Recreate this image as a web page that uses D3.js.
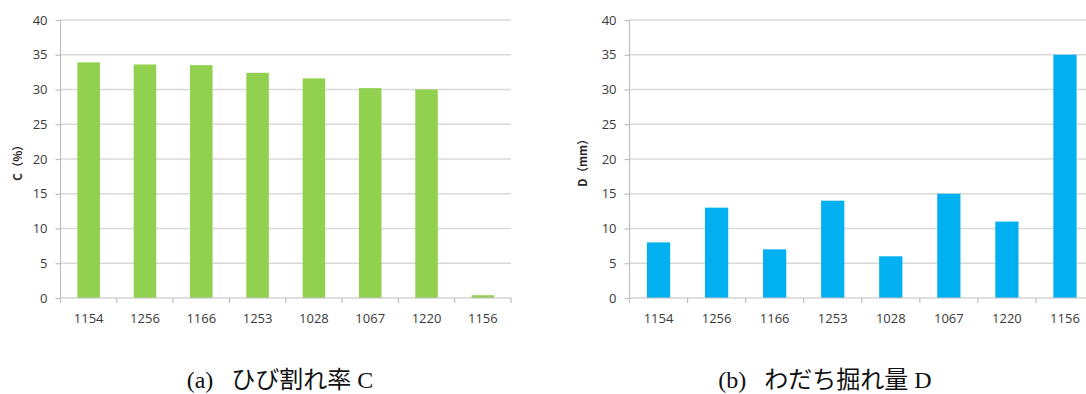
<!DOCTYPE html>
<html>
<head>
<meta charset="utf-8">
<script src="https://cdn.jsdelivr.net/npm/d3@7"></script>
<style>
    body { margin: 0; background: #fff; }
    .tick text { font-family: "Open Sans", "Noto Sans", sans-serif; font-size: 13px; fill: #3a3a3a; }
    .ytitle { font-family: "Noto Sans CJK JP", "Open Sans", sans-serif; font-size: 11.5px; font-weight: bold; fill: #262626; }
    .caption { font-family: "Liberation Serif", "Noto Sans CJK JP", serif; font-size: 24px; fill: #111; }
</style>
</head>
<body>
<div id="chart"></div>
<script>
// sections on x axis (same order in both panels)
let sections = ["1154", "1256", "1166", "1253", "1028", "1067", "1220", "1156"];
// crack ratio C (%)
let crackValues = [33.9, 33.6, 33.5, 32.4, 31.6, 30.2, 30.0, 0.4];
// rut depth D (mm)
let rutValues = [8, 13, 7, 14, 6, 15, 11, 35];
let yTicks = [0, 5, 10, 15, 20, 25, 30, 35, 40];

let svg = d3.select("#chart").append("svg")
    .attr("width", 1086)
    .attr("height", 394);

function drawPanel(opts) {
    let g = svg.append("g");
    let top = 20, bottom = 298;

    let xscale = d3.scaleBand()
        .domain(sections)
        .range([opts.left, opts.right])
        .paddingInner(0.6)
        .paddingOuter(0.3);

    let yscale = d3.scaleLinear()
        .domain([0, 40])
        .range([bottom, top]);

    // gridlines
    g.append("g")
        .selectAll("line")
        .data(yTicks.filter(d => d > 0))
        .join("line")
        .attr("x1", opts.left)
        .attr("x2", opts.right)
        .attr("y1", d => yscale(d))
        .attr("y2", d => yscale(d))
        .attr("stroke", "#d9d9d9")
        .attr("stroke-width", 1.5);

    // bars
    g.append("g")
        .selectAll("rect")
        .data(opts.values)
        .join("rect")
        .attr("x", (d, i) => xscale(sections[i]))
        .attr("y", d => yscale(d))
        .attr("width", xscale.bandwidth())
        .attr("height", d => bottom - yscale(d))
        .attr("fill", opts.color);

    // y axis
    let yAxis = d3.axisLeft(yscale).tickValues(yTicks).tickSize(5).tickPadding(8);
    let yg = g.append("g")
        .attr("transform", `translate(${opts.left},0)`)
        .call(yAxis);
    yg.selectAll("line, path").attr("stroke", "#bfbfbf").attr("stroke-width", 1.2);
    yg.select(".domain").attr("d", `M0,${top}V${bottom}`);

    // x axis: ticks sit on band boundaries
    let xg = g.append("g")
        .attr("transform", `translate(0,${bottom})`);
    xg.append("line")
        .attr("x1", opts.left).attr("x2", opts.right)
        .attr("stroke", "#bfbfbf").attr("stroke-width", 1.2);
    let step = xscale.step();
    xg.selectAll(".xt")
        .data(d3.range(sections.length + 1))
        .join("line")
        .attr("class", "xt")
        .attr("x1", i => opts.left + i * step)
        .attr("x2", i => opts.left + i * step)
        .attr("y1", 0).attr("y2", 5)
        .attr("stroke", "#bfbfbf").attr("stroke-width", 1.2);
    xg.selectAll(".xl")
        .data(sections)
        .join("text")
        .attr("class", "xl")
        .attr("x", d => xscale(d) + xscale.bandwidth() / 2)
        .attr("y", 25)
        .attr("text-anchor", "middle")
        .style("font-family", "'Open Sans', 'Noto Sans', sans-serif")
        .style("font-size", "13px")
        .style("fill", "#3a3a3a")
        .text(d => d);

    // y title
    g.append("text")
        .attr("class", "ytitle")
        .attr("transform", `translate(${opts.titleX},160) rotate(-90)`)
        .attr("text-anchor", "middle")
        .text(opts.yTitle);

    // caption
    g.append("text")
        .attr("class", "caption")
        .attr("x", opts.capX)
        .attr("y", 388)
        .attr("text-anchor", "middle")
        .attr("xml:space", "preserve")
        .text(opts.caption);
}

drawPanel({ left: 60.5, right: 511, values: crackValues, color: "#92d050",
    yTitle: "C（%）", titleX: 22, caption: "(a)\u2002 ひび割れ率 C", capX: 280 });
drawPanel({ left: 629.5, right: 1094, values: rutValues, color: "#00b0f0",
    yTitle: "D（mm）", titleX: 587, caption: "(b)\u2002 わだち掘れ量 D", capX: 825 });
</script>
</body>
</html>
